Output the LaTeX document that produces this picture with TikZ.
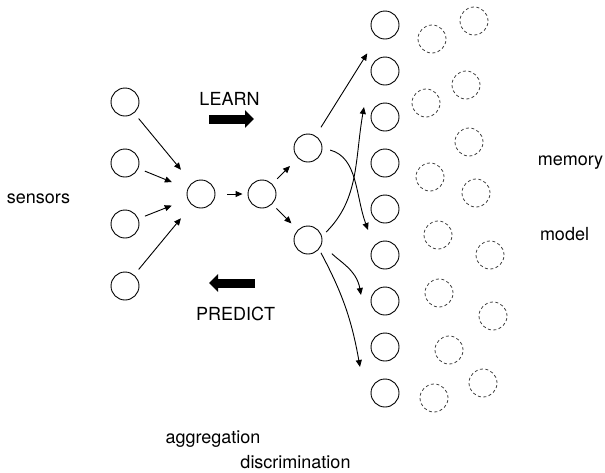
\documentclass[tikz,border=0pt]{standalone}
\usepackage{fontspec}
\setmainfont{TeX Gyre Heros}
\usetikzlibrary{arrows.meta}

\begin{document}
\begin{tikzpicture}[x=1pt,y=-1pt,line width=0.9pt,
  unit/.style={circle,draw,minimum size=28pt,inner sep=0pt},
  ghost/.style={unit,draw=black!75,line width=0.8pt,dash pattern=on 3pt off 2.5pt},
  txt/.style={anchor=base,inner sep=0pt,font=\fontsize{18}{20}\selectfont},
  >={Triangle[length=7pt,width=6pt]},
  fat/.style={line width=9pt,-{Triangle[length=9pt,width=17pt]}}]
  \useasboundingbox (0,0) rectangle (605,472);
  \foreach \y [count=\i] in {102,163,224,286} \node[unit] (s\i) at (125,\y) {};
  \node[unit] (agg) at (201,194) {};
  \node[unit] (dis) at (262,194) {};
  \node[unit] (up) at (308,148) {};
  \node[unit] (lo) at (308,240) {};
  \foreach \i in {1,...,9} \node[unit] (m\i) at (385,{25+46*(\i-1)}) {};
  \foreach \x/\y [count=\i] in {432/39,474/21,426/103,466/85,469/142,430/177,476/193,
    438/235,490/255,439/293,493/316,449/350,483/383,434/398}
    \node[ghost] (g\i) at (\x,\y) {};
  \node[txt] (sensors) at (38.5,203) {sensors};
  \node[txt] (learn) at (229.5,105) {LEARN};
  \node[txt] (predict) at (235.5,320) {PREDICT};
  \node[txt] (memory) at (570.5,165) {memory};
  \node[txt] (model) at (564.5,240) {model};
  \node[txt] (aggregation) at (213,443) {aggregation};
  \node[txt] (discrimination) at (295.5,468) {discrimination};
  \coordinate (learnA) at (209,119);
  \coordinate (learnB) at (254,119);
  \coordinate (predA) at (255,283);
  \coordinate (predB) at (209,283);
  \coordinate (t1) at (368,230);
  \coordinate (t2) at (364,107);
  \coordinate (t3) at (361,295);
  \coordinate (t4) at (360,367);
  \draw[fat] (learnA) -- (learnB);
  \draw[fat] (predA) -- (predB);
  \path[->]
  (s1) edge[shorten <=7pt,shorten >=17pt] (agg)
  (s2) edge[shorten <=7pt,shorten >=17pt] (agg)
  (s3) edge[shorten <=7pt,shorten >=17pt] (agg)
  (s4) edge[shorten <=7pt,shorten >=17pt] (agg)
  (agg) edge[shorten <=12pt,shorten >=5pt] (dis)
  (dis) edge[shorten <=7pt,shorten >=11pt] (up)
  (dis) edge[shorten <=6pt,shorten >=9pt] (lo)
  (up) edge[shorten <=10pt,shorten >=19pt] (m1)
  (up.east) edge[shorten <=8pt,out=-15,in=110] (t1)
  (lo.15) edge[shorten <=6pt,out=45,in=-100] (t2)
  (lo.-15) edge[shorten <=14pt,out=-45,in=100] (t3)
  (lo.-40) edge[shorten <=4pt,out=-62,in=100] (t4);
\end{tikzpicture}
\end{document}
